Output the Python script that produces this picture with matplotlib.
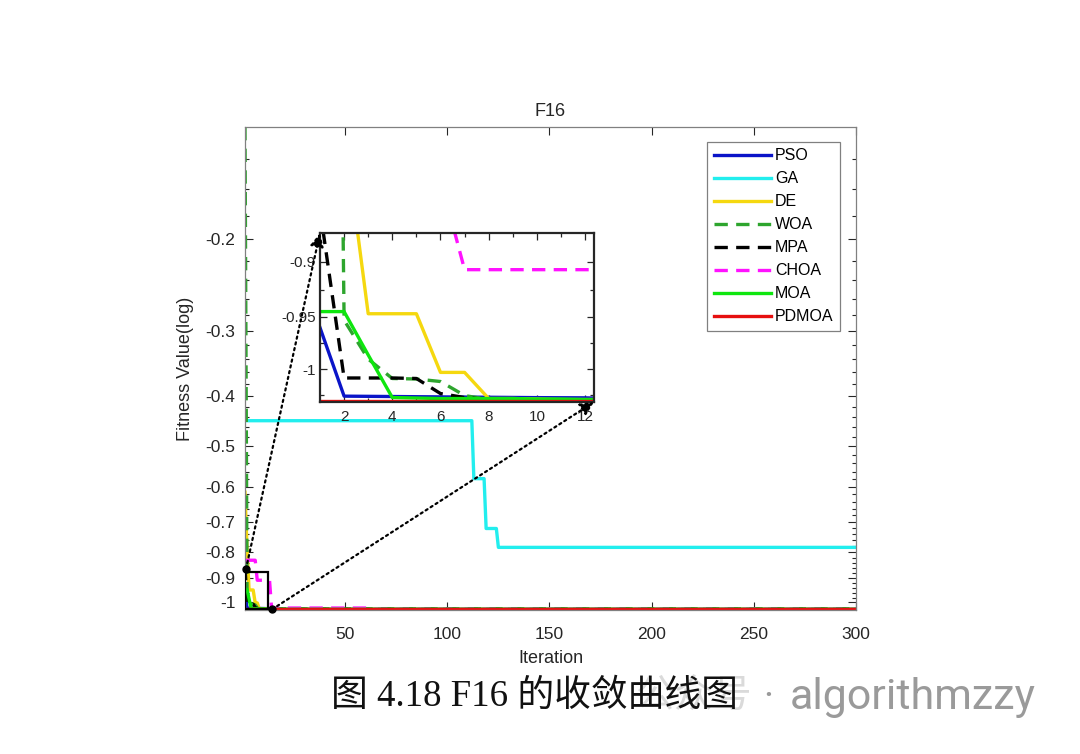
import matplotlib.pyplot as plt
import numpy as np
from matplotlib.patches import Rectangle, ConnectionPatch
from matplotlib.ticker import FixedLocator, NullFormatter

plt.rcParams['font.family'] = ['Liberation Sans', 'DejaVu Sans']

n_iter = 300
iters = np.arange(1, n_iter + 1)

# values for the first iterations (read from the zoom window), later ones are held
pso_head = [-0.960, -1.0266, -1.0268, -1.027, -1.0272, -1.0274, -1.0276, -1.0278,
            -1.028, -1.0281, -1.0282, -1.0283, -1.029]
de_head = [-0.614, -0.79, -0.947, -0.947, -0.947, -1.003, -1.003, -1.029, -1.029,
           -1.0295, -1.03, -1.03, -1.03]
woa_head = [-0.1215, -0.953, -0.99, -1.009, -1.0095, -1.012, -1.026, -1.030, -1.030,
            -1.0305, -1.031, -1.031, -1.031]
mpa_head = [-0.855, -1.0085, -1.0085, -1.0085, -1.009, -1.024, -1.028, -1.030, -1.030,
            -1.0305, -1.031, -1.031, -1.031]
moa_head = [-0.945, -0.945, -0.986, -1.028, -1.0285, -1.029, -1.029, -1.029, -1.029,
            -1.0295, -1.0295, -1.03, -1.03]
pdmoa_head = [-1.0316]
final_value = -1.0316

# GA and CHOA move in plateaus: level values and how many iterations each lasts
ga_levels = [-0.447, -0.578, -0.721, -0.784]
ga_counts = [112, 6, 6, 176]
choa_levels = [-0.83, -0.907, -1.026, -1.0316]
choa_counts = [6, 7, 49, 238]

names = ['PSO', 'GA', 'DE', 'WOA', 'MPA', 'CHOA', 'MOA', 'PDMOA']
colors = ['#0a14c8', '#22eeee', '#f5d80f', '#2ea52e', '#000000', '#ff12ff', '#0ee60e', '#e60f0f']
styles = ['-', '-', '-', '--', '--', '--', '-', '-']


def hold(head):
    return np.array(head + [final_value] * (n_iter - len(head)))


curves = [hold(pso_head), np.repeat(ga_levels, ga_counts), hold(de_head),
          hold(woa_head), hold(mpa_head), np.repeat(choa_levels, choa_counts),
          hold(moa_head), hold(pdmoa_head)]


def fwd(y):
    return -np.log10(np.abs(y))


def inv(t):
    return -10.0 ** (-t)


fig = plt.figure(figsize=(10.8, 7.54), dpi=100)
ax = fig.add_axes([245 / 1080, 1 - 610 / 754, 611 / 1080, 483 / 754])

for y, c, s, nm in zip(curves, colors, styles, names):
    kw = dict(dashes=(4, 2.5)) if s == '--' else {}
    ax.plot(iters, y, color=c, lw=2.4, label=nm, **kw)

ax.set_yscale('function', functions=(fwd, inv))
ax.set_xlim(1, 300)
ax.set_ylim(-1.035, -0.1215)
ax.set_xticks([50, 100, 150, 200, 250, 300])
yt = [-1, -0.9, -0.8, -0.7, -0.6, -0.5, -0.4, -0.3, -0.2]
ax.yaxis.set_major_locator(FixedLocator(yt))
ax.set_yticklabels(['-1', '-0.9', '-0.8', '-0.7', '-0.6', '-0.5', '-0.4', '-0.3', '-0.2'])
minor = [-v / 100 for v in range(14, 100, 2) if v % 10 != 0]
ax.yaxis.set_minor_locator(FixedLocator(minor))
ax.yaxis.set_minor_formatter(NullFormatter())
ax.tick_params(which='both', direction='in', top=True, right=True, colors='#262626',
               labelsize=12.5, width=0.8)
ax.tick_params(which='major', length=6)
ax.tick_params(axis='y', which='major', pad=7)
ax.tick_params(axis='x', which='major', pad=12)
ax.tick_params(which='minor', length=3)
for sp in ax.spines.values():
    sp.set_color('#808080')
    sp.set_linewidth(0.9)

ax.set_title('F16', fontsize=13, color='#262626', pad=8)
ax.set_xlabel('Iteration', fontsize=13, color='#262626', labelpad=6)
ax.set_ylabel('Fitness Value(log)', fontsize=13, color='#262626', labelpad=8)

leg = ax.legend(loc='upper right', bbox_to_anchor=(840 / 1080, 1 - 142 / 754),
                bbox_transform=fig.transFigure, borderaxespad=0, fancybox=False,
                fontsize=11.5, handlelength=3.6, handletextpad=0.25,
                labelspacing=0.5, borderpad=0.4, framealpha=1)
leg.get_frame().set_edgecolor('#808080')
leg.get_frame().set_linewidth(0.9)

# zoom window on the first iterations
x0, x1 = 1, 12.37
y0, y1 = -1.0325, -0.875
ax.add_patch(Rectangle((x0, y0), x1 - x0, y1 - y0, fill=False, ec='k', lw=1.6, zorder=9))

axin = fig.add_axes([320 / 1080, 1 - 402 / 754, 274 / 1080, 169 / 754])
for y, c, s in zip(curves, colors, styles):
    kw = dict(dashes=(4, 2.5)) if s == '--' else {}
    axin.plot(iters, y, color=c, lw=2.4, **kw)
axin.set_yscale('function', functions=(fwd, inv))
axin.set_xlim(x0, x1)
axin.set_ylim(y0, y1)
axin.set_xticks([2, 4, 6, 8, 10, 12])
axin.xaxis.set_minor_locator(FixedLocator([3, 5, 7, 9, 11]))
axin.yaxis.set_major_locator(FixedLocator([-1, -0.95, -0.9]))
axin.set_yticklabels(['-1', '-0.95', '-0.9'])
axin.yaxis.set_minor_locator(FixedLocator([-1.025, -0.975, -0.925]))
axin.yaxis.set_minor_formatter(NullFormatter())
axin.tick_params(which='both', direction='in', top=True, right=True, labelsize=11,
                 width=0.9, colors='#262626')
axin.tick_params(which='major', length=5)
axin.tick_params(axis='x', which='major', pad=6)
axin.tick_params(axis='y', which='major', pad=3)
axin.tick_params(which='minor', length=3)
for sp in axin.spines.values():
    sp.set_color('#262626')
    sp.set_linewidth(1.6)

ax.plot([1.5, 14.3], [-0.862, -1.0316], 'o', color='k', ms=5, clip_on=False, zorder=10)
for a, b in [((1.5, -0.862), (0, 1)), ((14.3, -1.0316), (1, 0))]:
    con = ConnectionPatch(xyA=a, coordsA=ax.transData, xyB=b, coordsB=axin.transAxes,
                          arrowstyle='-|>', linestyle=':', lw=1.6, color='k',
                          mutation_scale=20)
    fig.add_artist(con)

fig.text(534 / 1080, 1 - 697 / 754, '图 4.18 F16 的收敛曲线图', ha='center', va='center',
         fontsize=26.5, family=['Liberation Serif', 'Noto Sans CJK SC'], color='#111111',
         zorder=3)
fig.text(752 / 1080, 1 - 697 / 754, '公众号', ha='right', va='center', fontsize=28,
         family=['Noto Sans CJK SC'], color='#bdbdbd', alpha=0.55, zorder=2)
fig.text(768 / 1080, 1 - 697 / 754, '·', ha='center', va='center', fontsize=28,
         family=['Roboto'], color='#9a9a9a', zorder=2)
fig.text(790 / 1080, 1 - 697 / 754, 'algorithmzzy', ha='left', va='center', fontsize=31,
         family=['Roboto'], color='#9a9a9a', zorder=2)

fig.savefig('out.png', dpi=100)
